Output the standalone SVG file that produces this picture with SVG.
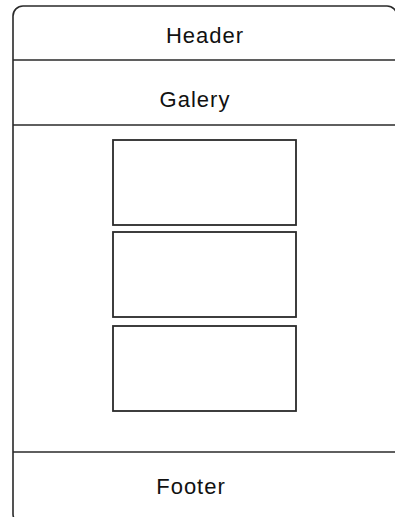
<svg xmlns="http://www.w3.org/2000/svg" width="395" height="517" viewBox="0 0 395 517">
<style>
.ln{stroke:#2a2a2a;stroke-width:1.6;fill:none}
.box{stroke:#2a2a2a;stroke-width:1.8;fill:#fff}
.t{font-family:"Liberation Sans",Arial,sans-serif;font-size:22px;fill:#111;text-anchor:middle;letter-spacing:1px}
</style>
<rect width="395" height="517" fill="#fff"/>
<g id="frame">
<rect class="ln" x="13" y="6" width="384" height="518" rx="10"/>
</g>
<g id="header">
<text class="t" x="205" y="43">Header</text>
</g>
<g id="galery">
<line class="ln" x1="13" y1="60" x2="395" y2="60"/>
<text class="t" x="195" y="107">Galery</text>
</g>
<g id="content">
<line class="ln" x1="13" y1="125" x2="395" y2="125"/>
<rect id="item1" class="box" x="113" y="140" width="183" height="85"/>
<rect id="item2" class="box" x="113" y="232" width="183" height="85"/>
<rect id="item3" class="box" x="113" y="326" width="183" height="85"/>
</g>
<g id="footer">
<line class="ln" x1="13" y1="452" x2="395" y2="452"/>
<text class="t" x="191" y="494">Footer</text>
</g>
<g id="connectors"></g>
</svg>
